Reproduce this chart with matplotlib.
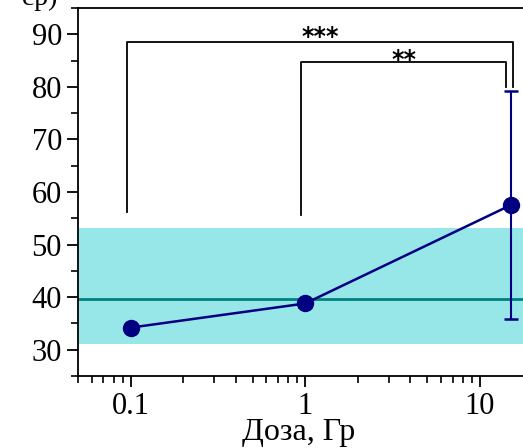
import numpy as np
import matplotlib
matplotlib.use('Agg')
import matplotlib.pyplot as plt

# data
dose       = np.array([0.1, 1.0, 15.0])
value      = np.array([34.2, 38.8, 57.5])
err        = np.array([0.3, 0.6, 21.7])
band_lo    = 31.1
band_hi    = 53.1
ref_level  = 39.6
xticks     = [0.1, 1, 10]
xticklbl   = ['0.1', '1', '10']
yticks     = [30, 40, 50, 60, 70, 80, 90]

# significance brackets: (x_left, x_right, y_top, y_left_end, y_right_end, label, label_x, label_dy)
brackets = [
    (0.096, 15.4, 88.5, 56.2, 79.9, '***', 1.22, 1.0),
    (0.94, 14.1, 84.7, 55.6, 79.9, '**', 3.7, 0.4),
]

serif = 'Liberation Serif'

fig = plt.figure(figsize=(5.23, 4.48), dpi=100)
ax = fig.add_axes([0.149, 0.1607, 0.928, 0.8214])

xs = np.array([0.051, 40])
ax.fill_between(xs, band_lo, band_hi, color='#97E6E8', lw=0, zorder=1)
ax.axhline(ref_level, color='#008080', lw=2, zorder=2)

ax.errorbar(dose, value, yerr=err, color='#000080', lw=1.8, marker='o', ms=11.5,
            capsize=5, capthick=1.8, elinewidth=1.5, zorder=5)

for xl, xr, yt, yle, yre, lab, lx, dy in brackets:
    ax.plot([xl, xl, xr, xr], [yle, yt, yt, yre], color='black', lw=1.3, zorder=4)
    ax.text(lx, yt + dy, lab, ha='center', va='center', fontsize=17,
            fontfamily='DejaVu Sans', fontweight='bold')

ax.set_xscale('log')
ax.set_xlim(0.05, 30)
ax.set_ylim(25, 95)
ax.set_xticks(xticks)
ax.set_xticklabels(xticklbl)
ax.xaxis.set_minor_locator(matplotlib.ticker.LogLocator(base=10.0, subs=np.arange(2, 10), numticks=10))
ax.xaxis.set_minor_formatter(matplotlib.ticker.NullFormatter())
ax.set_yticks(yticks)
ax.yaxis.set_minor_locator(matplotlib.ticker.MultipleLocator(5))

for lbl in ax.get_xticklabels() + ax.get_yticklabels():
    lbl.set_fontfamily(serif)
    lbl.set_fontsize(22)

ax.tick_params(which='major', direction='out', length=8, width=1.3)
ax.tick_params(which='minor', direction='out', length=5, width=1.2)
for s in ax.spines.values():
    s.set_linewidth(1.3)

ax.set_xlabel('Доза, Гр', fontfamily=serif, fontsize=23)
ax.xaxis.set_label_coords(0.455, -0.115)
fig.text(0.11, 0.988, 'ср)', fontfamily=serif, fontsize=20, ha='right', va='baseline')

fig.savefig('out.png', dpi=100)
